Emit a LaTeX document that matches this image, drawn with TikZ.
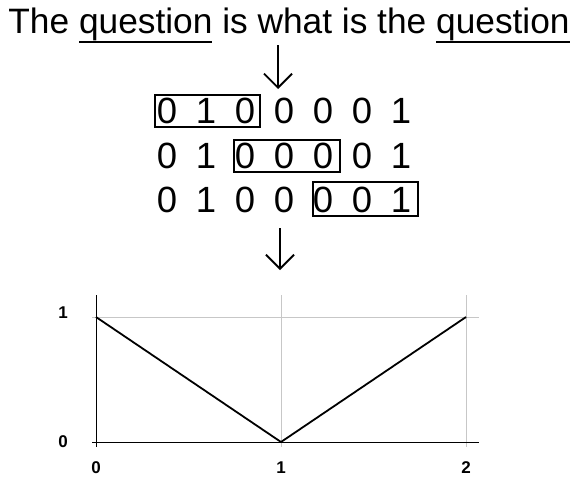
\documentclass[tikz,border=0pt]{standalone}
\usepackage{fontspec}
\setmainfont{Liberation Sans}
\usetikzlibrary{arrows.meta}
\newsavebox\ulbox
\newcommand\myul[1]{\sbox\ulbox{#1}\rlap{\rule[-10pt]{\wd\ulbox}{1.8pt}}\usebox\ulbox}
\begin{document}
\begin{tikzpicture}[x=1pt,y=-1pt,
  title/.style={font=\fontsize{35.3}{40}\selectfont, inner sep=0pt, anchor=base},
  digit/.style={font=\fontsize{36.5}{40}\selectfont, inner sep=0pt},
  win/.style={draw=black, line width=1.8pt},
  bigarrow/.style={line width=1.9pt, -{Straight Barb[length=14pt,width=28pt,line width=1.9pt]}},
  grid/.style={draw=black!22, line width=1pt},
  axis/.style={draw=black, line width=1pt},
  curve/.style={draw=black, line width=1.8pt, line join=miter},
  lab/.style={font=\fontsize{17}{19}\selectfont\bfseries, inner sep=0pt}]
\useasboundingbox (0,0) rectangle (578,477);
\fill[white] (0,0) rectangle (578,477);
% title
\node[title] (t) at (289,33) {The \myul{question} is what is the \myul{question}};
% arrow 1
\coordinate (a1s) at (278,45);
\coordinate (a1e) at (278,89);
\draw[bigarrow] (a1s) -- (a1e);
% digits: every row reads 0 1 0 0 0 0 1
\foreach \r/\y in {1/111, 2/156, 3/200}{
  \foreach \d [count=\i] in {0,1,0,0,0,0,1}{
    \pgfmathsetmacro\xx{167+39*(\i-1)}
    \node[digit] (d\r\i) at (\xx,\y) {\d};
  }
}
% windows
\draw[win] (155,95) rectangle (260,127);
\draw[win] (234,140) rectangle (340,172);
\draw[win] (313,182) rectangle (418,216);
% arrow 2
\coordinate (a2s) at (280,228);
\coordinate (a2e) at (280,270);
\draw[bigarrow] (a2s) -- (a2e);
% chart
\draw[grid] (92,317) -- (479,317);
\draw[grid] (281,295) -- (281,447);
\draw[grid] (466,295) -- (466,447);
\draw[axis] (96,295) -- (96,447);
\draw[axis] (92,442) -- (479,442);
\coordinate (p0) at (96,317);
\coordinate (p1) at (281,442);
\coordinate (p2) at (466,317);
\draw[curve] (p0) -- (p1) -- (p2);
\node[lab] (y1) at (63,313) {1};
\node[lab] (y0) at (63,442) {0};
\node[lab] (x0) at (96,468) {0};
\node[lab] (x1) at (281,468) {1};
\node[lab] (x2) at (466,468) {2};
\end{tikzpicture}
\end{document}
